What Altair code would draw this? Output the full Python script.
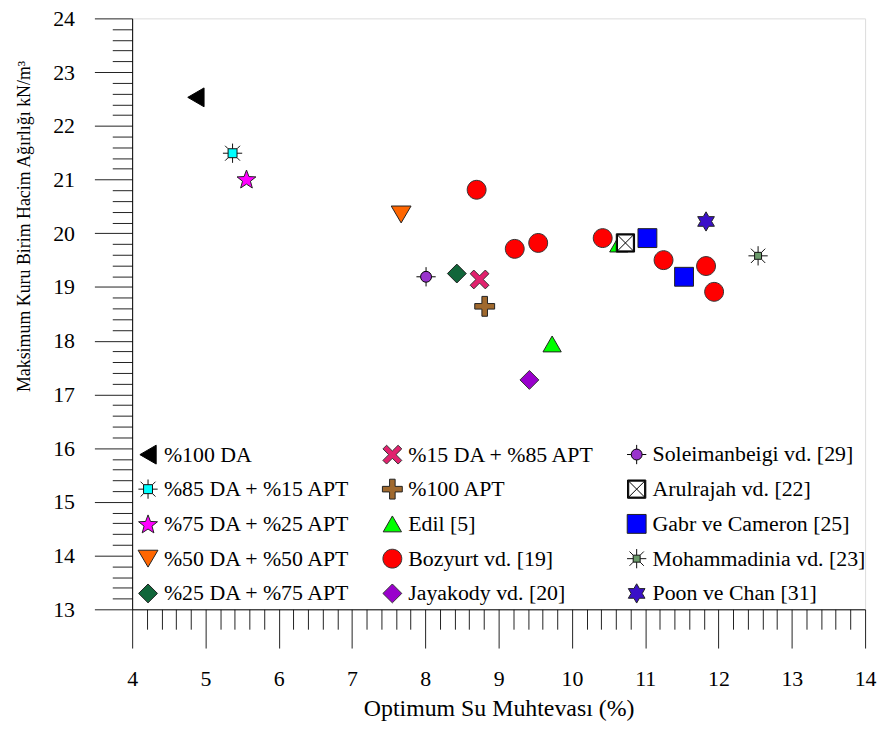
import math
import altair as alt
import pandas as pd

# ---------------- data ----------------
series = [
    "%100 DA", "%85 DA + %15 APT", "%75 DA + %25 APT", "%50 DA + %50 APT", "%25 DA + %75 APT",
    "%15 DA + %85 APT", "%100 APT", "Edil [5]", "Bozyurt vd. [19]", "Jayakody vd. [20]",
    "Soleimanbeigi vd. [29]", "Arulrajah vd. [22]", "Gabr ve Cameron [25]",
    "Mohammadinia vd. [23]", "Poon ve Chan [31]",
]

point_series = [
    "%100 DA", "%85 DA + %15 APT", "%75 DA + %25 APT", "%50 DA + %50 APT", "%25 DA + %75 APT",
    "%15 DA + %85 APT", "%100 APT",
    "Edil [5]", "Edil [5]",
    "Bozyurt vd. [19]", "Bozyurt vd. [19]", "Bozyurt vd. [19]", "Bozyurt vd. [19]",
    "Bozyurt vd. [19]", "Bozyurt vd. [19]", "Bozyurt vd. [19]",
    "Jayakody vd. [20]", "Soleimanbeigi vd. [29]", "Arulrajah vd. [22]",
    "Gabr ve Cameron [25]", "Gabr ve Cameron [25]",
    "Mohammadinia vd. [23]", "Poon ve Chan [31]",
]
point_x = [4.87, 5.37, 5.56, 7.67, 8.43, 8.74, 8.81,
           9.73, 10.64,
           8.70, 9.22, 9.54, 10.42, 11.25, 11.83, 11.94,
           9.42, 8.01, 10.73,
           11.03, 11.53,
           12.54, 11.83]
point_y = [22.53, 21.49, 21.01, 20.35, 19.25, 19.14, 18.64,
           17.94, 19.80,
           20.81, 19.71, 19.82, 19.91, 19.50, 19.39, 18.91,
           17.27, 19.19, 19.82,
           19.91, 19.19,
           19.58, 20.22]

fills = ["#000000", "#00FFFF", "#FF00FF", "#FF6600", "#11663A",
         "#E2226E", "#A0692E", "#00FF00", "#FF0000", "#9900CC",
         "#9933CC", "#FFFFFF", "#0000FF", "#6B9B6B", "#3A10C8"]
strokes = ["#000000", "#111111", "#222222", "#222222", "#222222",
           "#333333", "#222222", "#222222", "#333333", "#333333",
           "#000000", "#000000", "#222222", "#111111", "#222222"]

x_ticks = [round(4 + 0.2 * i, 1) for i in range(51)]
y_ticks = [round(13 + 0.2 * i, 1) for i in range(56)]

FONT = "Liberation Serif"


# ---------------- marker shapes (unit square [-1,1]) ----------------
def poly(pts):
    return "M" + "L".join(f"{x:.3f},{y:.3f}" for x, y in pts) + "Z"


def seg(x1, y1, x2, y2):
    return f"M{x1:.3f},{y1:.3f}L{x2:.3f},{y2:.3f}"


def star(n, ro, ri, dy=0.0):
    pts = []
    for i in range(2 * n):
        a = -math.pi / 2 + i * math.pi / n
        r = ro if i % 2 == 0 else ri
        pts.append((r * math.cos(a), r * math.sin(a) + dy))
    return poly(pts)


def plus_pts(L, w):
    return [(w, -L), (w, -w), (L, -w), (L, w), (w, w), (w, L),
            (-w, L), (-w, w), (-L, w), (-L, -w), (-w, -w), (-w, -L)]


def rot45(pts):
    c = math.sqrt(0.5)
    return [((x - y) * c, (x + y) * c) for x, y in pts]


def square(h):
    return poly([(-h, -h), (h, -h), (h, h), (-h, h)])


def circle(r):
    return f"M{r},0A{r},{r},0,1,1,{-r},0A{r},{r},0,1,1,{r},0Z"


def burst(h, axial, diag):
    p = square(h)
    p += seg(0, -h, 0, -axial) + seg(0, h, 0, axial) + seg(-h, 0, -axial, 0) + seg(h, 0, axial, 0)
    p += seg(-h, -h, -diag, -diag) + seg(h, -h, diag, -diag) + seg(h, h, diag, diag) + seg(-h, h, -diag, diag)
    return p


shapes = [
    poly([(-0.82, 0), (0.82, -0.95), (0.82, 0.95)]),                     # %100 DA
    burst(0.45, 0.97, 0.75),                                              # %85/%15
    star(5, 1.0, 0.42, 0.095),                                            # %75/%25
    poly([(-1.0, -0.85), (1.0, -0.85), (0, 0.85)]),                       # %50/%50
    poly([(0, -0.95), (0.95, 0), (0, 0.95), (-0.95, 0)]),                 # %25/%75
    poly(rot45(plus_pts(1.08, 0.26))),                                    # %15/%85
    poly(plus_pts(1.0, 0.28)),                                            # %100 APT
    poly([(0, -0.8), (0.92, 0.8), (-0.92, 0.8)]),                         # Edil
    circle(0.95),                                                         # Bozyurt
    poly([(0, -0.95), (0.95, 0), (0, 0.95), (-0.95, 0)]),                 # Jayakody
    circle(0.55) + seg(0, -0.55, 0, -0.97) + seg(0, 0.55, 0, 0.97)
    + seg(-0.55, 0, -0.97, 0) + seg(0.55, 0, 0.97, 0),                   # Soleimanbeigi
    square(0.92) + square(0.86) + square(0.8) + seg(-0.8, -0.8, 0.8, 0.8)
    + seg(0.8, -0.8, -0.8, 0.8),                                          # Arulrajah
    square(0.95),                                                         # Gabr
    burst(0.35, 0.97, 0.72),                                              # Mohammadinia
    star(6, 0.97, 0.56),                                                  # Poon
]

df = pd.DataFrame({"series": point_series, "x": point_x, "y": point_y})

is_major = "abs(datum.value - round(datum.value)) < 0.001"
major_label = f"{is_major} ? format(datum.value, 'd') : ''"

x_axis = alt.Axis(
    values=x_ticks, grid=False, title="Optimum Su Muhtevası (%)",
    labelExpr=major_label,
    tickSize={"condition": {"test": is_major, "value": 39}, "value": 20},
    tickColor="#222222", tickWidth=1, domainColor="#000000", domainWidth=1,
    labelFont=FONT, labelFontSize=22, labelColor="#000000", labelPadding=21,
    labelOverlap=False, labelFlush=False,
    titleFont=FONT, titleFontSize=24, titleFontWeight="normal", titleColor="#000000",
    titleX=369, titleY=100, titleBaseline="middle", titleAlign="center",
)
y_axis = alt.Axis(
    values=y_ticks, grid=False, title="Maksimum Kuru Birim Hacim Ağırlığı kN/m³",
    labelExpr=major_label,
    tickSize={"condition": {"test": is_major, "value": 38}, "value": 20},
    tickColor="#222222", tickWidth=1, domainColor="#000000", domainWidth=1,
    labelFont=FONT, labelFontSize=22, labelColor="#000000", labelPadding=20,
    labelOverlap=False, labelFlush=False,
    titleFont=FONT, titleFontSize=18, titleFontWeight="normal", titleColor="#000000",
    titleX=-108, titleY=209, titleBaseline="middle", titleAlign="center", titleAngle=270,
)

legend = alt.Legend(
    title=None, orient="none", legendX=5, legendY=428, columns=3,
    symbolSize=400, symbolStrokeWidth=1, symbolOpacity=1,
    labelFont=FONT, labelFontSize=22, labelColor="#000000", labelOffset=5,
    rowPadding=11, columnPadding=29, labelLimit=400,
)

chart = alt.Chart(df).mark_point(filled=True, size=400, strokeWidth=1, opacity=1).encode(
    x=alt.X("x:Q", scale=alt.Scale(domain=[4, 14], nice=False, zero=False), axis=x_axis),
    y=alt.Y("y:Q", scale=alt.Scale(domain=[13, 24], nice=False, zero=False), axis=y_axis),
    shape=alt.Shape("series:N", scale=alt.Scale(domain=series, range=shapes), legend=legend),
    fill=alt.Fill("series:N", scale=alt.Scale(domain=series, range=fills), legend=legend),
    stroke=alt.Stroke("series:N", scale=alt.Scale(domain=series, range=strokes), legend=legend),
).properties(
    width=738, height=595,
    autosize=alt.AutoSizeParams(type="none"),
    padding={"left": 125, "top": 8, "right": 14, "bottom": 110},
).configure_view(stroke=None).configure(background="#ffffff", font=FONT)

chart.save("out.html", embed_options={"renderer": "svg", "actions": False})
